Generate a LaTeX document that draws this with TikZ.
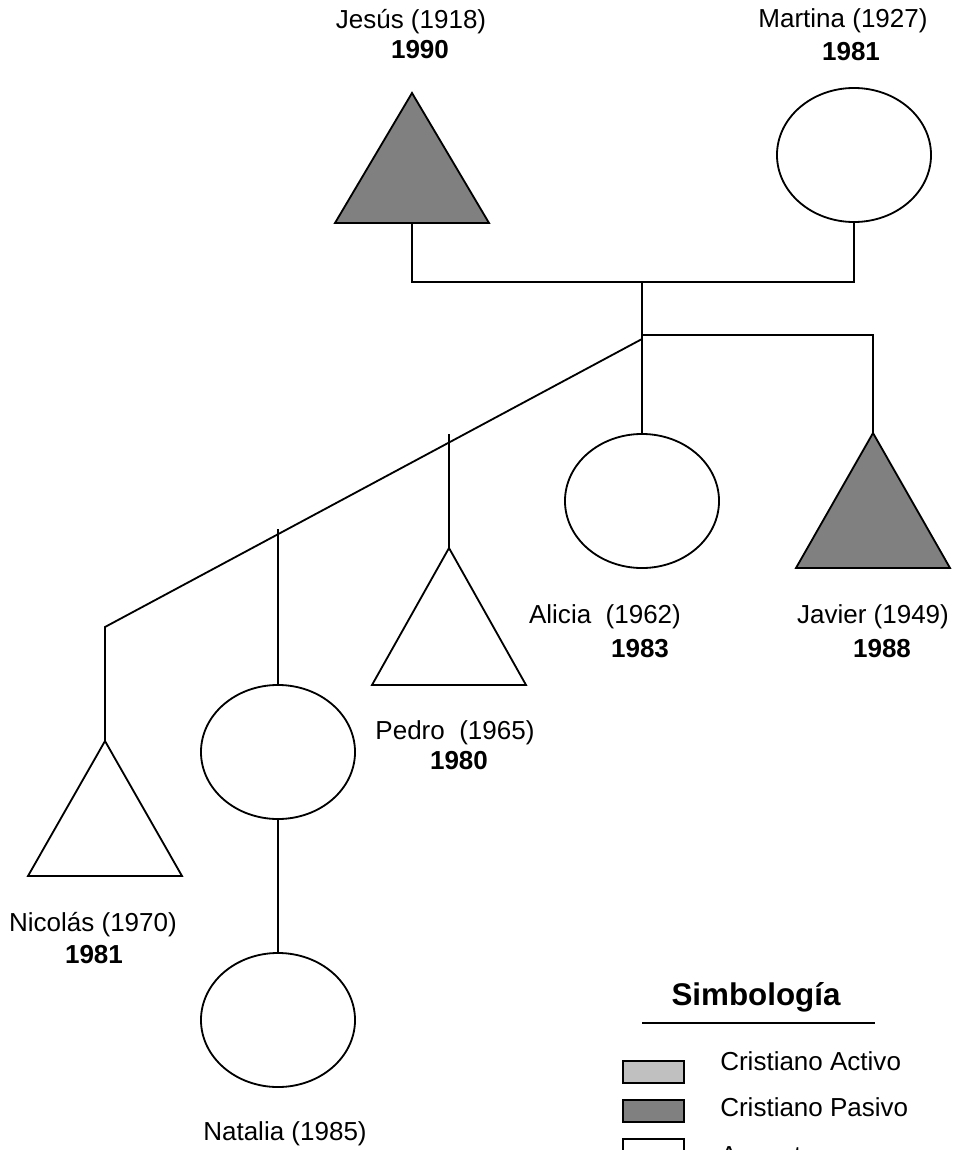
\documentclass[tikz,border=0pt]{standalone}
\usepackage{fontspec}
\setmainfont{Liberation Sans}
\usepackage{xcolor}
\usetikzlibrary{shapes.geometric,calc}
\definecolor{activo}{RGB}{192,192,192}
\definecolor{pasivo}{RGB}{128,128,128}
\tikzset{
  linea/.style={line width=1.3pt},
  mujer/.style={draw,ellipse,line width=1.3pt,inner sep=0pt,minimum width=3.85cm,minimum height=3.35cm},
  nombre/.style={anchor=base,inner sep=0pt,font=\fontsize{18.5}{22}\selectfont},
  anio/.style={anchor=base,inner sep=0pt,font=\fontsize{18.5}{22}\selectfont\bfseries},
  caja/.style={draw,line width=1.2pt,inner sep=0pt,minimum width=1.525cm,minimum height=0.55cm},
}

\begin{document}
\begin{tikzpicture}[x=0.025cm,y=-0.025cm]
        \useasboundingbox (0,0) rectangle (958,1150);
        \clip (0,0) rectangle (958,1150);
        % Padres
        \coordinate (jesus) at (412,93); % vertice del triangulo
        \draw[linea,fill=pasivo] (jesus) -- ++(-77,130) -- ++(154,0) -- cycle;
        \coordinate (jesusB) at ($(jesus)+(0,130)$);
        \node (martina) [mujer] at (854,155) {};
        % Hijos
        \node (alicia) [mujer] at (642,501) {};
        \coordinate (javier) at (873,433);
        \draw[linea,fill=pasivo] (javier) -- ++(-77,135) -- ++(154,0) -- cycle;
        \coordinate (pedro) at (449,548);
        \draw[linea] (pedro) -- ++(-77,137) -- ++(154,0) -- cycle;
        \node (hija) [mujer] at (278,752) {};
        \coordinate (nicolas) at (105,741);
        \draw[linea] (nicolas) -- ++(-77,135) -- ++(154,0) -- cycle;
        % Nieta
        \node (natalia) [mujer] at (278,1020) {};
        % Lineas de parentesco
        \coordinate (union) at (642,282);
        \coordinate (hijos) at (642,335);
        \coordinate (rama) at (642,339);
        \coordinate (codo) at (105,627);
        \coordinate (pedroT) at (449,434);
        \coordinate (hijaT) at (278,529);
        \draw[linea] (jesusB) |- (union) -| (martina.south);
        \draw[linea] (union) -- (alicia.north);
        \draw[linea] (hijos) -| (javier);
        \draw[linea] (rama) -- (codo) -- (nicolas);
        \draw[linea] (pedroT) -- (pedro);
        \draw[linea] (hijaT) -- (hija.north);
        \draw[linea] (hija.south) -- (natalia.north);
        % Nombres y fechas
        \node (jesusN) [nombre] at (411,29) {Jesús (1918)};
        \node (jesusA) [anio] at (420,59) {1990};
        \node (martinaN) [nombre] at (843,28) {Martina (1927)};
        \node (martinaA) [anio] at (851,61) {1981};
        \node (aliciaN) [nombre] at (605,623) {Alicia~ (1962)};
        \node (aliciaA) [anio] at (640,657) {1983};
        \node (javierN) [nombre] at (873,623) {Javier (1949)};
        \node (javierA) [anio] at (882,657) {1988};
        \node (pedroN) [nombre] at (455,739) {Pedro~ (1965)};
        \node (pedroA) [anio] at (459,769) {1980};
        \node (nicolasN) [nombre] at (93,931) {Nicolás (1970)};
        \node (nicolasA) [anio] at (94,963) {1981};
        \node (nataliaN) [nombre] at (285,1140) {Natalia (1985)};
        % Simbologia
        \node (simb) [anchor=base,inner sep=0pt,font=\fontsize{22.3}{26}\selectfont\bfseries] at (756,1005) {Simbología};
        \coordinate (simbI) at (642,1023);
        \coordinate (simbD) at (875,1023);
        \draw[linea] (simbI) -- (simbD);
        \node (cajaA) [caja,fill=activo] at (653.5,1072) {};
        \node (cajaP) [caja,fill=pasivo] at (653.5,1111) {};
        \node (cajaU) [caja,fill=white] at (653.5,1150) {};
        \node (textoA) [nombre,anchor=base west] at (720,1070) {Cristiano Activo};
        \node (textoP) [nombre,anchor=base west] at (720,1116) {Cristiano Pasivo};
        \node (textoU) [nombre,anchor=base west] at (720,1164) {Ausente};
    \end{tikzpicture}
\end{document}
